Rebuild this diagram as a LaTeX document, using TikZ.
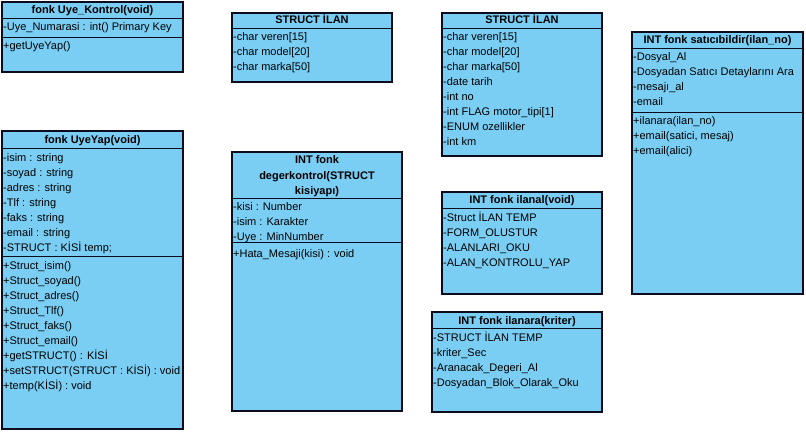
\documentclass[tikz,border=0pt]{standalone}
\usepackage{fontspec}
\setmainfont{Liberation Sans}
\definecolor{umlfill}{RGB}{122,206,244}
\definecolor{umlline}{RGB}{12,12,30}
\tikzset{
  umlbox/.style={draw=umlline, fill=umlfill, line width=1.1pt},
  umlsep/.style={draw=umlline, line width=0.9pt},
  rowtext/.style={anchor=base west, inner sep=0pt, font=\fontsize{11}{13}\selectfont},
  headtext/.style={anchor=base, inner sep=0pt, font=\bfseries\fontsize{11}{13}\selectfont},
}
\begin{document}
\begin{tikzpicture}[x=1pt,y=-1pt]
\useasboundingbox (0,0) rectangle (806,433);

% Box 1: fonk Uye_Kontrol(void)
\draw[umlbox] (2,2) rectangle (183,72);
\draw[umlsep] (2,18) -- (183,18);
\draw[umlsep] (2,37) -- (183,37);
\node[headtext] (b1h) at (92.5,14) {fonk Uye\_Kontrol(void)};
\node[rowtext] (b1a1) at (3,31) {-Uye\_Numarasi : int() Primary Key};
\node[rowtext] (b1m1) at (3,50) {+getUyeYap()};

% Box 2: fonk UyeYap(void)
\draw[umlbox] (2,131) rectangle (183,429);
\draw[umlsep] (2,148) -- (183,148);
\draw[umlsep] (2,256) -- (183,256);
\node[headtext] (b2h) at (92.5,143) {fonk UyeYap(void)};
\foreach \t [count=\i] in {-isim : string,-soyad : string,-adres : string,-Tlf : string,-faks : string,-email : string,-STRUCT : KİSİ temp;}
  \node[rowtext] (b2a\i) at (3,{146+15*\i}) {\t};
\foreach \t [count=\i] in {+Struct\_isim(),+Struct\_soyad(),+Struct\_adres(),+Struct\_Tlf(),+Struct\_faks(),+Struct\_email(),+getSTRUCT() : KİSİ,+setSTRUCT(STRUCT : KİSİ) : void,+temp(KİSİ) : void}
  \node[rowtext] (b2m\i) at (3,{254+15*\i}) {\t};

% Box 3: STRUCT İLAN
\draw[umlbox] (232,13) rectangle (392,82);
\draw[umlsep] (232,28) -- (392,28);
\node[headtext] (b3h) at (312,24) {STRUCT İLAN};
\foreach \t [count=\i] in {-char veren[15],-char model[20],-char marka[50]}
  \node[rowtext] (b3a\i) at (233,{26+15*\i}) {\t};

% Box 4: INT fonk degerkontrol(STRUCT kisiyapı)
\draw[umlbox] (232,152) rectangle (402,411);
\draw[umlsep] (232,198) -- (402,198);
\draw[umlsep] (232,242) -- (402,242);
\node[headtext] (b4h1) at (317,164) {INT fonk};
\node[headtext] (b4h2) at (317,179) {degerkontrol(STRUCT};
\node[headtext] (b4h3) at (317,194) {kisiyapı)};
\foreach \t [count=\i] in {-kisi : Number,-isim : Karakter,-Uye : MinNumber}
  \node[rowtext] (b4a\i) at (233,{195+15*\i}) {\t};
\node[rowtext] (b4m1) at (233,257) {+Hata\_Mesaji(kisi) : void};

% Box 5: STRUCT İLAN (full)
\draw[umlbox] (442,13) rectangle (602,156);
\draw[umlsep] (442,28) -- (602,28);
\node[headtext] (b5h) at (522,24) {STRUCT İLAN};
\foreach \t [count=\i] in {-char veren[15],-char model[20],-char marka[50],-date tarih,-int no,-int FLAG motor\_tipi[1],-ENUM ozellikler,-int km}
  \node[rowtext] (b5a\i) at (443,{26+15*\i}) {\t};

% Box 6: INT fonk ilanal(void)
\draw[umlbox] (442,192) rectangle (602,294);
\draw[umlsep] (442,208) -- (602,208);
\node[headtext] (b6h) at (522,204) {INT fonk ilanal(void)};
\foreach \t [count=\i] in {-Struct İLAN TEMP,-FORM\_OLUSTUR,-ALANLARI\_OKU,-ALAN\_KONTROLU\_YAP}
  \node[rowtext] (b6a\i) at (443,{206+15*\i}) {\t};

% Box 7: INT fonk ilanara(kriter)
\draw[umlbox] (432,312) rectangle (602,412);
\draw[umlsep] (432,328) -- (602,328);
\node[headtext] (b7h) at (517,324) {INT fonk ilanara(kriter)};
\foreach \t [count=\i] in {-STRUCT İLAN TEMP,-kriter\_Sec,-Aranacak\_Degeri\_Al,-Dosyadan\_Blok\_Olarak\_Oku}
  \node[rowtext] (b7a\i) at (433,{326+15*\i}) {\t};

% Box 8: INT fonk satıcıbildir(ilan_no)
\draw[umlbox] (632,32) rectangle (803,294);
\draw[umlsep] (632,48) -- (803,48);
\draw[umlsep] (632,112) -- (803,112);
\node[headtext] (b8h) at (717.5,44) {INT fonk satıcıbildir(ilan\_no)};
\foreach \t [count=\i] in {-Dosyal\_Al,-Dosyadan Satıcı Detaylarını Ara,-mesajı\_al,-email}
  \node[rowtext] (b8a\i) at (633,{46+15*\i}) {\t};
\foreach \t [count=\i] in {+ilanara(ilan\_no),{+email(satici, mesaj)},+email(alici)}
  \node[rowtext] (b8m\i) at (633,{110+15*\i}) {\t};
\end{tikzpicture}
\end{document}
